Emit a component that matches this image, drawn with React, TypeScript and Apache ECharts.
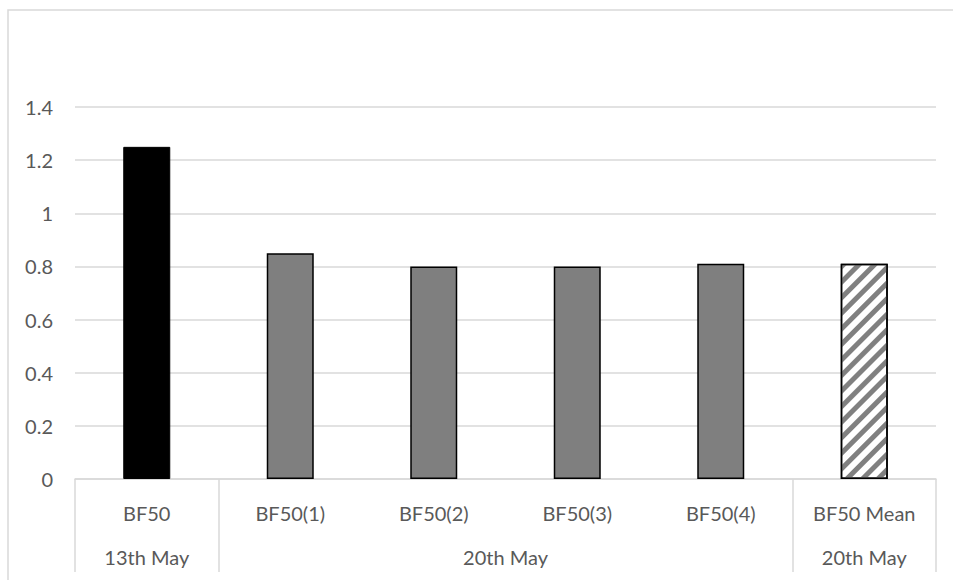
import React, { useEffect, useRef } from "react";
import * as echarts from "echarts";

const categories = ["BF50", "BF50(1)", "BF50(2)", "BF50(3)", "BF50(4)", "BF50 Mean"];
const values = [1.25, 0.85, 0.8, 0.8, 0.81, 0.81];
const groupLabels = ["13th May", "20th May", "20th May"];
const groupSpans = [1, 4, 1];
const yTicks = { min: 0, max: 1.4, interval: 0.2 };

const FONT = "Lato";
const TEXT = "#595959";
const LINE = "#d9d9d9";

export default function App() {
  const ref = useRef<HTMLDivElement>(null);
  useEffect(() => {
    if (!ref.current) return;
    const chart = echarts.init(ref.current, undefined, { renderer: "svg" });

    const bounds: number[] = [0];
    groupSpans.forEach((s) => bounds.push(bounds[bounds.length - 1] + s));
    const centers = groupSpans.map((s, i) => bounds[i] + s / 2);

    const itemStyles = values.map((_, i) => {
      if (i === 0) return { color: "#000000", borderColor: "#000000", borderWidth: 1 };
      if (i === values.length - 1)
        return {
          color: "#ffffff",
          borderColor: "#000000",
          borderWidth: 1.5,
          decal: {
            symbol: "rect",
            symbolSize: 1,
            dashArrayX: [1, 0],
            dashArrayY: [5, 6],
            rotation: -Math.PI / 4,
            color: "#808080",
            backgroundColor: "#ffffff",
          },
        };
      return { color: "#7f7f7f", borderColor: "#000000", borderWidth: 1.5 };
    });

    chart.setOption({
      animation: false,
      textStyle: { fontFamily: FONT },
      grid: { left: 75, right: 17, top: 107, bottom: 101, containLabel: false },
      xAxis: [
        {
          type: "category",
          data: categories,
          axisLine: { show: true, lineStyle: { color: LINE, width: 1.5 } },
          axisTick: { show: false },
          axisLabel: { color: TEXT, fontSize: 20, fontFamily: FONT, margin: 24, lineHeight: 20, interval: 0 },
        },
        {
          type: "value",
          min: 0,
          max: categories.length,
          position: "bottom",
          axisLine: { show: false },
          splitLine: { show: false },
          axisTick: {
            show: true,
            customValues: bounds,
            length: 93,
            lineStyle: { color: LINE, width: 1.5 },
          },
          axisLabel: {
            show: true,
            customValues: centers,
            color: TEXT,
            fontSize: 20,
            fontFamily: FONT,
            margin: 68,
            lineHeight: 20,
            formatter: (v: number) => {
              const idx = centers.findIndex((c) => Math.abs(c - v) < 1e-6);
              return idx >= 0 ? groupLabels[idx] : "";
            },
          },
        },
      ],
      yAxis: {
        type: "value",
        min: yTicks.min,
        max: yTicks.max,
        interval: yTicks.interval,
        axisLine: { show: false },
        axisTick: { show: false },
        splitLine: { lineStyle: { color: LINE, width: 1.5 } },
        axisLabel: { color: TEXT, fontSize: 20, fontFamily: FONT, margin: 22 },
      },
      series: [
        {
          type: "bar",
          xAxisIndex: 0,
          barWidth: 47,
          data: values.map((v, i) => ({ value: v, itemStyle: itemStyles[i] })),
        },
      ],
      graphic: [
        {
          type: "rect",
          shape: { x: 8, y: 10, width: 980, height: 600 },
          style: { fill: "none", stroke: LINE, lineWidth: 1.5 },
          silent: true,
          z: -1,
        },
      ],
    });
    return () => chart.dispose();
  }, []);
  return (
    <div
      ref={ref}
      style={{ position: "absolute", left: 0, top: 0, width: 953, height: 580, background: "#fff" }}
    />
  );
}
